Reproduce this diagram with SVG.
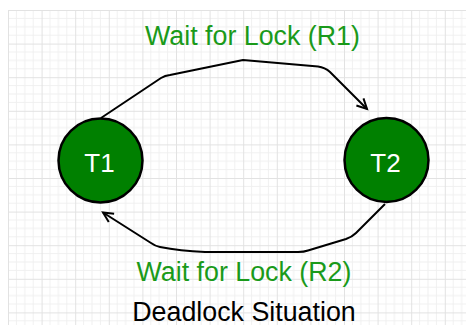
<svg xmlns="http://www.w3.org/2000/svg" width="466" height="325" viewBox="0 0 466 325">
  <defs>
    <!-- background grid: minor lines every 8.4px, major every 33.6px -->
    <pattern id="grid" x="8" y="10" width="33.6" height="33.6" patternUnits="userSpaceOnUse">
      <path d="M8.4,0V33.6M16.8,0V33.6M25.2,0V33.6M0,8.4H33.6M0,16.8H33.6M0,25.2H33.6" stroke="#f0f0f0" stroke-width="1" fill="none"/>
      <path d="M0.5,0V33.6M0,0.5H33.6" stroke="#e2e2e2" stroke-width="1" fill="none"/>
    </pattern>
    <marker id="open-arrow" markerUnits="userSpaceOnUse" markerWidth="14" markerHeight="14" refX="0" refY="0" viewBox="-11 -7 14 14" orient="auto">
      <path d="M-10,-5 L0,0 L-10,5" fill="none" stroke="#000" stroke-width="2"/>
    </marker>
    <style>
      .node circle { fill: #008000; stroke: #000; stroke-width: 2.5; }
      .node text { font-family: "Liberation Sans", Arial, sans-serif; font-size: 26px; fill: #fff; text-anchor: middle; }
      .edge { fill: none; stroke: #000; stroke-width: 2; stroke-linejoin: round; marker-end: url(#open-arrow); }
      .label { font-family: "Liberation Sans", Arial, sans-serif; font-size: 26.8px; text-anchor: middle; }
      .green { fill: #1a9a1a; }
    </style>
  </defs>

  <rect width="466" height="325" fill="#fff"/>
  <rect x="8" y="10" width="458" height="315" fill="url(#grid)"/>

  <g id="connectors">
    <path class="edge" d="M101,118 L161,78 Q165,75.5 170,75 L243,60 L318,66.5 Q325,67.5 330,72 L367,109"/>
    <path class="edge" d="M385,204 L356,233 Q352,237 346,239 L308,250.5 Q304,252 298,252 L205,252 Q180,251 160,247 Q155,246 151,243 L103,212.5"/>
  </g>

  <g id="T1" class="node">
    <circle cx="100.5" cy="160.5" r="42"/>
    <text x="99.5" y="171.5">T1</text>
  </g>

  <g id="T2" class="node">
    <circle cx="386.5" cy="160" r="42"/>
    <text x="385.5" y="171.5">T2</text>
  </g>

  <g id="labels">
    <text class="label green" x="252.5" y="45">Wait for Lock (R1)</text>
    <text class="label green" x="244" y="280.5">Wait for Lock (R2)</text>
    <text class="label" x="244" y="320.5" fill="#000">Deadlock Situation</text>
  </g>
</svg>
